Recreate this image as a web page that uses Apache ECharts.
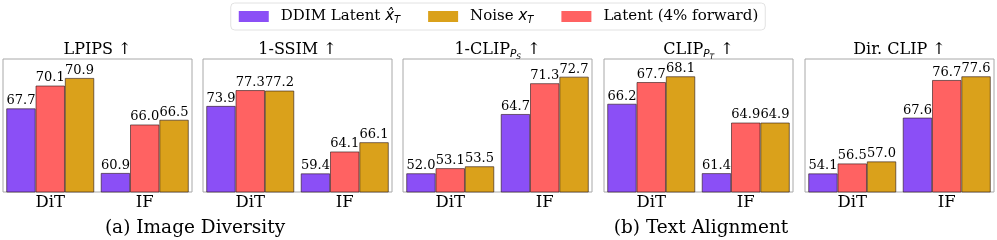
<!DOCTYPE html>
<html><head><meta charset="utf-8">
<script src="https://cdn.jsdelivr.net/npm/echarts@6/dist/echarts.min.js"></script>
<style>html,body{margin:0;padding:0;background:#fff}#c{width:997px;height:240px}</style>
</head><body><div id="c"></div>
<script>
const categories = ['DiT', 'IF'];
const panelTitles = [
  '{t|LPIPS ↑}',
  '{t|1-SSIM ↑}',
  '{t|1-CLIP}{p|P}{q|S}{t| ↑}',
  '{t|CLIP}{p|P}{q|T}{t| ↑}',
  '{t|Dir. CLIP ↑}'
];
const ddimLatent = [[67.7, 60.9], [73.9, 59.4], [52.0, 64.7], [66.2, 61.4], [54.1, 67.6]];
const latentForward = [[70.1, 66.0], [77.3, 64.1], [53.1, 71.3], [67.7, 64.9], [56.5, 76.7]];
const noise = [[70.9, 66.5], [77.2, 66.1], [53.5, 72.7], [68.1, 64.9], [57.0, 77.6]];
const yMin = [58.9, 55.4, 48.0, 60.1, 49.6];
const yMax = [72.9, 84.0, 76.5, 69.3, 81.8];
const captions = ['(a) Image Diversity', '(b) Text Alignment'];

const names = ['DDIM Latent', 'Noise', 'Latent (4% forward)'];
const colors = {'DDIM Latent': '#8b4ff6', 'Noise': '#daa11b', 'Latent (4% forward)': '#ff6262'};
const serif = 'DejaVu Serif';
const gridLefts = [3, 203, 403, 604, 805];
const gridW = 189, gridTop = 59, gridH = 133;

const grids = [], xAxes = [], yAxes = [], series = [], graphics = [];
const seriesSets = [['DDIM Latent', ddimLatent], ['Latent (4% forward)', latentForward], ['Noise', noise]];
for (let i = 0; i < 5; i++) {
  grids.push({left: gridLefts[i], top: gridTop, width: gridW, height: gridH, show: true,
    borderColor: '#a8a8a8', borderWidth: 1, backgroundColor: 'transparent'});
  xAxes.push({type: 'category', gridIndex: i, data: categories,
    axisLine: {show: false}, axisTick: {show: false},
    axisLabel: {fontFamily: serif, fontSize: 16.5, color: '#000', margin: 2}});
  yAxes.push({type: 'value', gridIndex: i, min: yMin[i], max: yMax[i],
    show: false, splitLine: {show: false}});
  seriesSets.forEach(([nm, arr]) => {
    series.push({name: nm, type: 'bar', xAxisIndex: i, yAxisIndex: i, data: arr[i],
      barGap: '0%', barCategoryGap: '7%',
      itemStyle: {color: colors[nm], borderColor: 'rgba(40,20,20,0.75)', borderWidth: 0.8},
      label: {show: true, position: 'top', distance: 1, fontFamily: serif, fontSize: 13,
        color: '#000', formatter: p => p.value.toFixed(1)},
      emphasis: {disabled: true}, animation: false});
  });
  graphics.push({type: 'text', x: gridLefts[i] + gridW / 2, y: 50,
    style: {text: panelTitles[i], x: 0, y: 0, align: 'center', verticalAlign: 'middle',
      textAlign: 'center', textVerticalAlign: 'middle',
      rich: {
        t: {fontFamily: serif, fontSize: 16, color: '#000', lineHeight: 20},
        p: {fontFamily: 'DejaVu Sans', fontStyle: 'italic', fontSize: 10.5, color: '#000', lineHeight: 10, padding: [8, 0, 0, 0]},
        q: {fontFamily: 'DejaVu Sans', fontStyle: 'italic', fontSize: 7.5, color: '#000', lineHeight: 7, padding: [14, 1, 0, 0]}
      }}});
}
graphics.push({type: 'text', x: 195, y: 228, style: {text: captions[0], align: 'center', verticalAlign: 'middle',
  textAlign: 'center', textVerticalAlign: 'middle', font: '18.5px "DejaVu Serif"', fill: '#000'}});
graphics.push({type: 'text', x: 701, y: 228, style: {text: captions[1], align: 'center', verticalAlign: 'middle',
  textAlign: 'center', textVerticalAlign: 'middle', font: '18.5px "DejaVu Serif"', fill: '#000'}});

const legendLabels = {
  'DDIM Latent': '{t|DDIM Latent }{m|x\u0302}{s|T}',
  'Noise': '{t|Noise }{m|x}{s|T}',
  'Latent (4% forward)': '{t|Latent (4% forward)}'
};
const chart = echarts.init(document.getElementById('c'), null, {renderer: 'canvas'});
chart.setOption({
  animation: false,
  legend: {data: names, top: 3, left: 'center', itemWidth: 30, itemHeight: 11, itemGap: 28,
    padding: [5, 7, 5, 8], borderColor: '#e2e2e2', borderWidth: 1, borderRadius: 4,
    icon: 'rect', selectedMode: false,
    itemStyle: {borderWidth: 0},
    formatter: n => legendLabels[n],
    textStyle: {padding: [0, 0, 0, 7], rich: {
      t: {fontFamily: serif, fontSize: 15, color: '#000', lineHeight: 19},
      m: {fontFamily: 'DejaVu Sans', fontStyle: 'italic', fontSize: 15, color: '#000', lineHeight: 19},
      s: {fontFamily: 'DejaVu Sans', fontStyle: 'italic', fontSize: 10, color: '#000', lineHeight: 10, padding: [7, 0, 0, 0]}
    }}},
  grid: grids, xAxis: xAxes, yAxis: yAxes, series: series, graphic: graphics
});
</script></body></html>
